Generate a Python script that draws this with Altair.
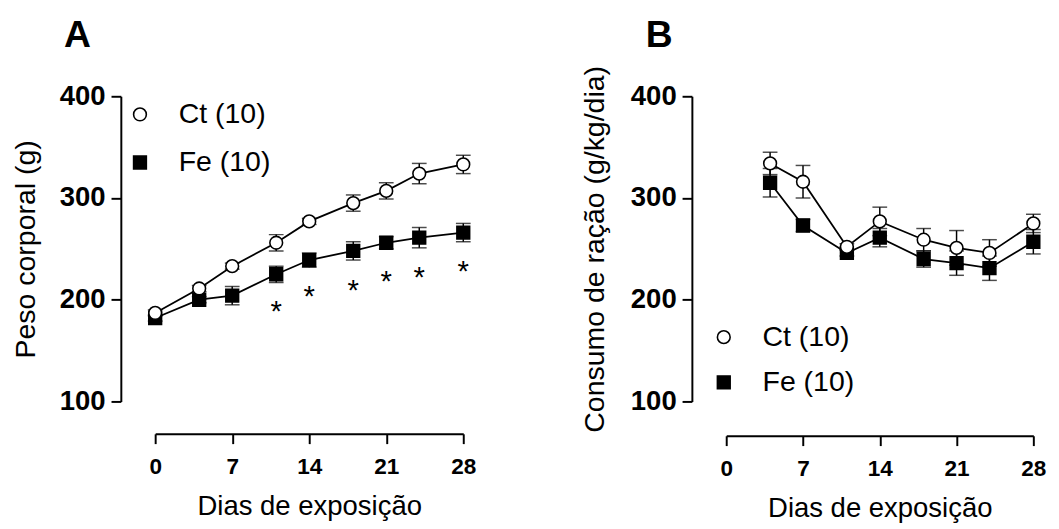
import altair as alt
import pandas as pd

FONT = "Liberation Sans"

# Panel A: body weight
days_A = [0, 4, 7, 11, 14, 18, 21, 24, 28]
ct_A = [187, 211, 233, 256, 277, 295, 307, 324, 333]
ct_A_err = [3, 3, 3, 8, 3, 8, 8, 10, 9]
fe_A = [182, 200, 204, 225, 239, 248, 256, 261, 266]
fe_A_err = [3, 3, 9, 8, 7, 9, 6, 10, 9]
star_days = [11, 14, 18, 21, 24, 28]
star_y = [197, 212, 218, 227, 231, 237]

# Panel B: food intake
days_B = [4, 7, 11, 14, 18, 21, 24, 28]
ct_B = [334, 316, 252, 277, 259, 251, 246, 275]
ct_B_err = [11, 16, 3, 14, 11, 17, 13, 9]
fe_B = [315, 273, 246, 261, 240, 236, 231, 257]
fe_B_err = [14, 6, 3, 9, 8, 12, 12, 12]

groups = ["Ct (10)", "Fe (10)"]
x_ticks = [0, 7, 14, 21, 28]
y_ticks = [100, 200, 300, 400]


def panel(days, ct, ct_err, fe, fe_err, ytitle, ytitle_pad, letter, letter_x, letter_y,
          leg_x, leg_y, row_pad, xoff, yoff, width, stars=None):
    rows = []
    for name, vals, errs in [("Fe (10)", fe, fe_err), ("Ct (10)", ct, ct_err)]:
        for d, v, e in zip(days, vals, errs):
            rows.append({"day": d, "value": v, "lo": v - e, "hi": v + e, "group": name})
    df = pd.DataFrame(rows)
    base = alt.Chart(df)

    xaxis = alt.Axis(values=x_ticks, title="Dias de exposição", offset=xoff,
                     grid=False, domainColor="black", domainWidth=2,
                     tickColor="black", tickWidth=2, tickSize=10,
                     labelFont=FONT, labelFontSize=23, labelFontWeight="bold",
                     labelColor="black", labelPadding=12, labelFlush=False,
                     titleFont=FONT, titleFontSize=28, titleFontWeight="normal",
                     titleColor="black", titlePadding=15)
    yaxis = alt.Axis(values=y_ticks, title=ytitle, offset=yoff,
                     grid=False, domainColor="black", domainWidth=2,
                     tickColor="black", tickWidth=2, tickSize=10,
                     labelFont=FONT, labelFontSize=28, labelFontWeight="bold",
                     labelColor="black", labelPadding=6, labelFlush=False,
                     titleFont=FONT, titleFontSize=29, titleFontWeight="normal",
                     titleColor="black", titlePadding=ytitle_pad)
    xs = alt.Scale(domain=[0, 28], nice=False, zero=False)
    ys = alt.Scale(domain=[100, 400], nice=False, zero=False)

    X = alt.X("day:Q", scale=xs, axis=xaxis)

    rules = base.mark_rule(color="black", strokeWidth=1.5).encode(
        x=X, y=alt.Y("lo:Q", scale=ys, axis=yaxis), y2="hi:Q")
    cap_lo = base.mark_tick(color="black", thickness=1.5, size=15, orient="horizontal").encode(
        x=X, y=alt.Y("lo:Q", scale=ys, axis=yaxis))
    cap_hi = base.mark_tick(color="black", thickness=1.5, size=15, orient="horizontal").encode(
        x=X, y=alt.Y("hi:Q", scale=ys, axis=yaxis))
    lines = base.mark_line(color="black", strokeWidth=1.8).encode(
        x=X, y=alt.Y("value:Q", scale=ys, axis=yaxis), detail="group:N")

    legend = alt.Legend(orient="none", legendX=leg_x, legendY=leg_y, title=None,
                        labelFont=FONT, labelFontSize=29, labelColor="black",
                        symbolSize=169, symbolStrokeColor="black",
                        symbolStrokeWidth=1.6, rowPadding=row_pad,
                        labelOffset=25, padding=0)
    points = base.mark_point(filled=True, strokeWidth=1.6,
                             size=169, opacity=1).encode(
        x=X, y=alt.Y("value:Q", scale=ys, axis=yaxis),
        shape=alt.Shape("group:N", scale=alt.Scale(domain=groups, range=["circle", "square"]),
                        legend=legend),
        fill=alt.Fill("group:N", scale=alt.Scale(domain=groups, range=["white", "black"]),
                      legend=legend),
        stroke=alt.Stroke("group:N", scale=alt.Scale(domain=groups, range=["black", "black"]),
                          legend=legend),
    )
    layers = [rules, cap_lo, cap_hi, lines, points]

    if stars is not None:
        sd = pd.DataFrame({"day": stars[0], "y": stars[1], "t": ["*"] * len(stars[0])})
        star_layer = alt.Chart(sd).mark_text(font=FONT, fontSize=30, color="black",
                                             baseline="middle", dy=10).encode(
            x=X, y=alt.Y("y:Q", scale=ys, axis=yaxis), text="t:N")
        layers.append(star_layer)

    ld = pd.DataFrame({"t": [letter]})
    letter_layer = alt.Chart(ld).mark_text(font=FONT, fontSize=38, fontWeight="bold",
                                           color="black", align="left",
                                           baseline="alphabetic").encode(
        x=alt.value(letter_x), y=alt.value(letter_y), text="t:N")
    layers.append(letter_layer)

    return alt.layer(*layers).properties(width=width, height=311).resolve_legend(
        shape="independent", fill="independent", stroke="independent")


chart_A = panel(days_A, ct_A, ct_A_err, fe_A, fe_A_err, "Peso corporal (g)", 19,
                "A", -93, -50, -30, 4, 19, 33, 35, 314,
                stars=(star_days, star_y))
chart_B = panel(days_B, ct_B, ct_B_err, fe_B, fe_B_err, "Consumo de ração (g/kg/dia)", 21,
                "B", -82, -50, -17, 231, 16, 35, 35, 313)

chart = alt.hconcat(chart_A, chart_B, spacing=268, bounds="flush").resolve_legend(
    shape="independent", fill="independent", stroke="independent"
).resolve_scale(x="independent", y="independent").configure_view(stroke=None).properties(
    padding={"left": 4, "top": 5, "right": 5, "bottom": 0})

chart.save("out.html", embed_options={"renderer": "svg", "actions": False})
